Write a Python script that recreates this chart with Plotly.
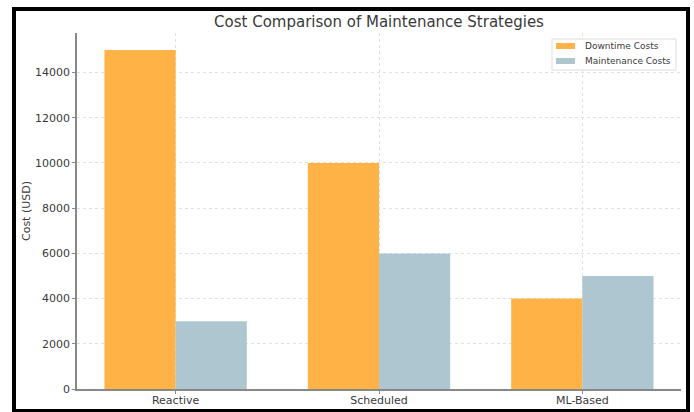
import plotly.graph_objects as go

categories = ["Reactive", "Scheduled", "ML-Based"]
downtime_costs = [15000, 10000, 4000]
maintenance_costs = [3000, 6000, 5000]
y_ticks = [0, 2000, 4000, 6000, 8000, 10000, 12000, 14000]
series_names = ["Downtime Costs", "Maintenance Costs"]
series_colors = ["#FFB347", "#AEC6CF"]

W, H = 694, 412
L, R, T, B = 77, 13, 33, 23
pw, ph = W - L - R, H - T - B

def px_x(x):
    return (x - L) / pw

def px_y(y):
    return (H - B - y) / ph

fig = go.Figure()
for name, vals, col in zip(series_names, [downtime_costs, maintenance_costs], series_colors):
    fig.add_trace(go.Bar(x=categories, y=vals, name=name,
                         marker=dict(color=col, line=dict(width=0))))

font = "DejaVu Sans, sans-serif"
fig.update_layout(
    width=W, height=H,
    margin=dict(l=L, r=R, t=T, b=B),
    paper_bgcolor="white", plot_bgcolor="white",
    barmode="group", bargap=0.3, bargroupgap=0,
    font=dict(family=font, size=11, color="#3a3a3a"),
    title=dict(text="Cost Comparison of Maintenance Strategies",
               x=0.5, xref="paper", xanchor="center",
               y=1 - 22 / H, yref="container", yanchor="middle",
               font=dict(size=15, color="#3a3a3a")),
    showlegend=False,
    xaxis=dict(range=[-0.485, 2.485], showgrid=True, gridcolor="#e0e0e0",
               griddash="dot", gridwidth=1, showline=True, linecolor="#888888",
               linewidth=1.5, ticks="outside", ticklen=3, tickcolor="#888888",
               zeroline=False, tickfont=dict(size=11), automargin=False,
               ticklabelstandoff=-3),
    yaxis=dict(range=[0, 15750], tickvals=y_ticks, tickformat="d", showgrid=True,
               gridcolor="#e0e0e0", griddash="dot", gridwidth=1,
               showline=True, linecolor="#888888", linewidth=1.5,
               ticks="outside", ticklen=3, tickcolor="#888888",
               zeroline=False, tickfont=dict(size=11), automargin=False,
               title=dict(text="Cost (USD)", font=dict(size=11), standoff=2)),
)

# legend box (matplotlib style)
fig.add_shape(type="rect", xref="paper", yref="paper",
              x0=px_x(552), x1=px_x(676), y0=px_y(70), y1=px_y(39),
              line=dict(color="#dddddd", width=1), fillcolor="white", layer="above")
for i, (name, col) in enumerate(zip(series_names, series_colors)):
    yc = 46 + i * 15
    fig.add_shape(type="rect", xref="paper", yref="paper",
                  x0=px_x(556), x1=px_x(575), y0=px_y(yc + 3), y1=px_y(yc - 3),
                  line=dict(width=0), fillcolor=col, layer="above")
    fig.add_annotation(x=px_x(583), y=px_y(yc), xref="paper", yref="paper",
                       text=name, showarrow=False, xanchor="left", yanchor="middle",
                       font=dict(size=9, color="#3a3a3a"))

fig.add_shape(type="rect", xref="paper", yref="paper",
              x0=px_x(14), x1=px_x(688), y0=px_y(411), y1=px_y(9),
              line=dict(color="black", width=4), fillcolor="rgba(0,0,0,0)",
              layer="above")

fig.write_html("out.html")
